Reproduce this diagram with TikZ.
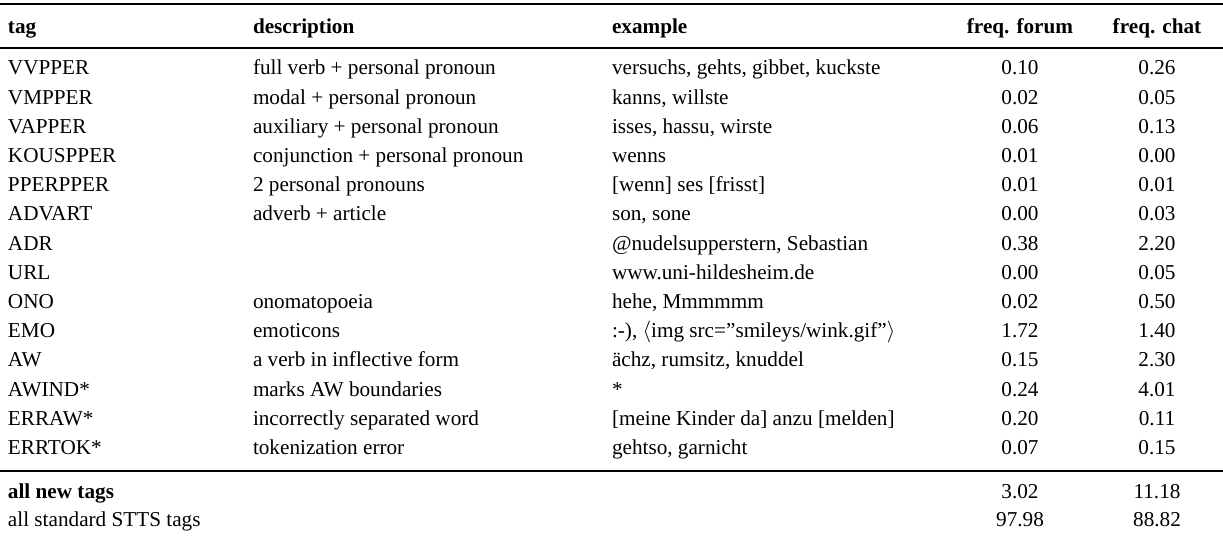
\documentclass[tikz,border=0pt]{standalone}
\usepackage{fontspec}
\setmainfont{Liberation Serif}
\begin{document}
\begin{tikzpicture}[x=0.5pt,y=-0.5pt,
  cell/.style={inner sep=0pt,outer sep=0pt,anchor=base west,font=\fontsize{10.6}{12}\selectfont},
  num/.style={inner sep=0pt,outer sep=0pt,anchor=base,font=\fontsize{10.6}{12}\selectfont},
  hd/.style={font=\fontsize{10.6}{12}\selectfont\bfseries},
  heavyrule/.style={line width=1.0pt},
  lightrule/.style={line width=0.6pt}]
\useasboundingbox (0,0) rectangle (1223,539);
\def\xa{8}\def\xb{253}\def\xc{612}\def\xd{1020}\def\xe{1157}
\newcommand\tabrow[6]{%
  \pgfmathsetmacro\yy{75+29.2*(#1-1)}%
  \node[cell] (tag#1) at (\xa,\yy) {#2};
  \node[cell] (desc#1) at (\xb,\yy) {#3};
  \node[cell] (ex#1) at (\xc,\yy) {#4};
  \node[num] (ff#1) at (\xd,\yy) {#5};
  \node[num] (fc#1) at (\xe,\yy) {#6};
}
% rules
\coordinate (r1l) at (0,4); \coordinate (r1r) at (1223,4);
\coordinate (r2l) at (0,48); \coordinate (r2r) at (1223,48);
\coordinate (r3l) at (0,471); \coordinate (r3r) at (1223,471);
\draw[heavyrule] (r1l) -- (r1r);
\draw[lightrule] (r2l) -- (r2r);
\draw[lightrule] (r3l) -- (r3r);
% header
\node[cell,hd] (htag) at (\xa,34) {tag};
\node[cell,hd] (hdesc) at (\xb,34) {description};
\node[cell,hd] (hex) at (\xc,34) {example};
\node[num,hd] (hff) at (\xd,34) {freq. forum};
\node[num,hd] (hfc) at (\xe,34) {freq. chat};
% body
\tabrow{1}{VVPPER}{full verb + personal pronoun}{versuchs, gehts, gibbet, kuckste}{0.10}{0.26}
\tabrow{2}{VMPPER}{modal + personal pronoun}{kanns, willste}{0.02}{0.05}
\tabrow{3}{VAPPER}{auxiliary + personal pronoun}{isses, hassu, wirste}{0.06}{0.13}
\tabrow{4}{KOUSPPER}{conjunction + personal pronoun}{wenns}{0.01}{0.00}
\tabrow{5}{PPERPPER}{2 personal pronouns}{[wenn] ses [frisst]}{0.01}{0.01}
\tabrow{6}{ADVART}{adverb + article}{son, sone}{0.00}{0.03}
\tabrow{7}{ADR}{}{@nudelsupperstern, Sebastian}{0.38}{2.20}
\tabrow{8}{URL}{}{www.uni-hildesheim.de}{0.00}{0.05}
\tabrow{9}{ONO}{onomatopoeia}{hehe, Mmmmmm}{0.02}{0.50}
\tabrow{10}{EMO}{emoticons}{:-), $\langle$img src=”smileys/wink.gif”$\rangle$}{1.72}{1.40}
\tabrow{11}{AW}{a verb in inflective form}{ächz, rumsitz, knuddel}{0.15}{2.30}
\tabrow{12}{AWIND*}{marks AW boundaries}{*}{0.24}{4.01}
\tabrow{13}{ERRAW*}{incorrectly separated word}{[meine Kinder da] anzu [melden]}{0.20}{0.11}
\tabrow{14}{ERRTOK*}{tokenization error}{gehtso, garnicht}{0.07}{0.15}
% totals
\node[cell,hd] (tnew) at (\xa,499) {all new tags};
\node[num] (tnewf) at (\xd,499) {3.02};
\node[num] (tnewc) at (\xe,499) {11.18};
\node[cell] (tstd) at (\xa,527) {all standard STTS tags};
\node[num] (tstdf) at (\xd,527) {97.98};
\node[num] (tstdc) at (\xe,527) {88.82};
\end{tikzpicture}
\end{document}
